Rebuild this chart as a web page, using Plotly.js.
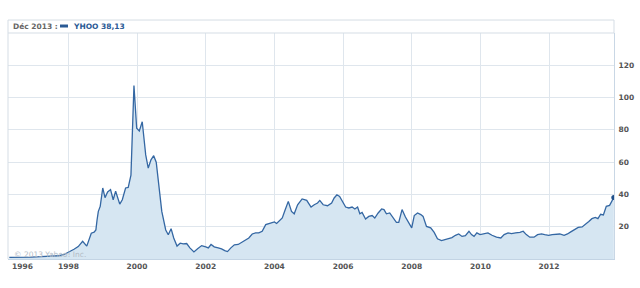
<!DOCTYPE html>
<html>
<head>
<meta charset="utf-8">
<script src="https://cdn.plot.ly/plotly-3.0.1.min.js"></script>
<style>html,body{margin:0;padding:0;background:#fff;}#chart{width:640px;height:288px;}</style>
</head>
<body>
<div id="chart"></div>
<script>
var dates = ['1996-04-12','1996-08-01','1996-12-01','1997-03-15','1997-07-01','1997-09-15','1997-11-15','1998-01-01','1998-03-01','1998-04-15','1998-06-01','1998-07-15','1998-09-01','1998-10-01','1998-10-20','1998-11-01','1998-11-15','1998-12-05','1999-01-01','1999-01-25','1999-02-22','1999-03-25','1999-04-22','1999-05-18','1999-07-01','1999-07-28','1999-09-01','1999-09-29','1999-10-28','1999-11-29','1999-12-28','2000-01-25','2000-02-25','2000-04-02','2000-04-29','2000-05-28','2000-06-26','2000-07-23','2000-08-22','2000-09-20','2000-11-01','2000-11-28','2000-12-28','2001-01-25','2001-03-01','2001-04-04','2001-05-06','2001-06-12','2001-07-16','2001-08-28','2001-10-06','2001-11-18','2002-01-01','2002-01-28','2002-02-26','2002-04-01','2002-05-13','2002-06-18','2002-07-22','2002-08-20','2002-09-25','2002-11-01','2002-12-12','2003-01-18','2003-03-01','2003-04-04','2003-05-10','2003-06-15','2003-07-19','2003-08-24','2003-10-01','2003-11-15','2004-01-01','2004-01-25','2004-03-01','2004-03-25','2004-04-22','2004-05-28','2004-07-01','2004-07-30','2004-09-04','2004-10-10','2004-10-22','2004-12-10','2005-01-25','2005-02-28','2005-04-04','2005-04-28','2005-06-03','2005-07-19','2005-09-01','2005-09-28','2005-10-27','2005-11-25','2005-12-27','2006-01-28','2006-03-03','2006-04-07','2006-05-06','2006-06-04','2006-06-28','2006-07-22','2006-08-28','2006-10-01','2006-11-06','2006-12-04','2007-01-09','2007-02-15','2007-03-12','2007-04-07','2007-05-12','2007-06-16','2007-07-22','2007-08-16','2007-09-20','2007-10-26','2007-12-01','2008-01-01','2008-01-28','2008-03-03','2008-04-07','2008-05-01','2008-06-06','2008-07-21','2008-08-27','2008-10-01','2008-11-13','2008-12-25','2009-01-31','2009-03-04','2009-04-10','2009-05-15','2009-06-19','2009-07-25','2009-09-01','2009-09-28','2009-10-25','2009-11-24','2009-12-28','2010-02-09','2010-03-22','2010-05-04','2010-06-21','2010-08-06','2010-09-10','2010-10-22','2010-11-28','2011-01-10','2011-02-25','2011-04-01','2011-05-04','2011-06-10','2011-07-25','2011-09-01','2011-10-13','2011-11-16','2011-12-28','2012-02-03','2012-03-19','2012-04-24','2012-06-09','2012-07-15','2012-08-19','2012-10-01','2012-11-06','2012-12-18','2013-01-22','2013-02-27','2013-04-01','2013-05-07','2013-06-04','2013-07-03','2013-08-01','2013-09-01','2013-10-06','2013-10-28','2013-11-20'];
var prices = [1.0,0.9,1.1,1.5,1.7,2.0,2.8,4.0,6.0,7.7,11.0,8.0,16.0,16.6,18.0,24.0,29.5,32.6,44.0,38.0,41.5,43.0,36.7,42.0,34.0,36.7,44.0,44.3,52.0,107.5,81.0,79.3,85.0,64.5,56.3,61.4,64.0,60.0,44.0,29.5,18.0,15.0,18.8,13.0,8.0,9.8,9.4,9.6,6.9,4.4,6.3,8.3,7.5,6.9,9.0,7.5,6.9,6.3,5.2,4.6,6.9,8.8,9.0,10.4,12.0,13.0,15.5,16.2,16.2,17.2,21.3,22.3,23.0,22.0,24.0,25.4,30.0,35.7,29.5,28.0,33.6,36.3,37.2,36.3,32.2,33.6,34.7,36.3,33.6,33.0,34.7,37.8,39.8,38.8,35.0,32.2,31.6,32.2,31.0,32.2,28.0,28.9,24.8,26.4,26.9,25.4,28.5,31.0,30.6,28.0,28.5,25.4,22.7,22.7,30.6,26.0,22.3,19.3,26.9,28.5,27.5,26.4,20.2,19.3,16.5,12.5,11.4,12.0,12.6,13.3,14.7,15.5,14.0,14.5,17.2,15.1,14.0,16.2,15.1,15.5,16.2,14.7,13.5,13.0,15.1,16.2,15.7,16.2,16.5,17.2,15.1,13.5,13.5,15.1,15.5,15.1,14.7,15.1,15.1,15.5,14.7,15.5,16.8,18.2,19.6,19.9,21.3,23.3,25.0,25.8,25.0,27.7,27.3,32.6,33.2,35.3,38.13];
var yTicks = [20,40,60,80,100,120,140];
var yTickText = ['20','40','60','80','100','120',''];
var headerDate = 'Déc 2013 :';
var headerSeries = 'YHOO 38,13';
var copyright = '© 2013 Yahoo! Inc.';
var firstYearLabel = '1996';

var lineColor = '#3467a3';
var gridColor = '#dfe6ed';
var tickFont = {family: 'DejaVu Sans', size: 7.5, color: '#555555', weight: 'bold'};

var traces = [
  {x: dates, y: prices, type: 'scatter', mode: 'lines', fill: 'tozeroy',
   fillcolor: '#d6e6f2', line: {color: lineColor, width: 1.3}, hoverinfo: 'skip'},
  {x: [dates[dates.length-1]], y: [prices[prices.length-1]], type: 'scatter', mode: 'markers',
   marker: {color: '#1f4f8a', size: 5}, hoverinfo: 'skip'}
];

var layout = {
  width: 640, height: 288,
  margin: {l: 8, r: 26, t: 33, b: 28.5},
  paper_bgcolor: '#ffffff', plot_bgcolor: '#ffffff',
  showlegend: false,
  xaxis: {type: 'date', range: ['1996-03-29', '2013-11-22'], tick0: '1998-01-01', dtick: 'M24',
          tickformat: '%Y', showgrid: true, gridcolor: gridColor, gridwidth: 1,
          showline: true, linecolor: '#c3d4e4', linewidth: 1, zeroline: false,
          ticks: '', tickfont: tickFont, ticklabelstandoff: 0, fixedrange: true},
  yaxis: {range: [0, 140], side: 'right', tickvals: yTicks, ticktext: yTickText,
          showgrid: true, gridcolor: gridColor, gridwidth: 1, zeroline: false,
          showline: true, linecolor: '#c9d7e5', linewidth: 1,
          ticks: '', tickfont: tickFont, ticklabelstandoff: 2, fixedrange: true},
  shapes: [
    {type: 'rect', xref: 'paper', yref: 'paper', x0: 0, x1: 1, y0: 1, y1: 1 + 13/226.5,
     line: {color: '#d5dde5', width: 1}, fillcolor: 'rgba(0,0,0,0)'},
    {type: 'line', xref: 'paper', yref: 'paper', x0: 0, x1: 0, y0: 0, y1: 1,
     line: {color: '#d5dde5', width: 1}},
    {type: 'rect', xref: 'paper', yref: 'paper', x0: 52/606, x1: 60/606,
     y0: 1 + 5.5/226.5, y1: 1 + 8.5/226.5, line: {width: 0}, fillcolor: '#2a5a95'}
  ],
  annotations: [
    {xref: 'paper', yref: 'paper', x: 3/606, y: 1 + 6.5/226.5, xanchor: 'left', yanchor: 'middle',
     text: headerDate, showarrow: false, font: {family: 'DejaVu Sans', size: 7.5, color: '#666666', weight: 'bold'}},
    {xref: 'paper', yref: 'paper', x: 63/606, y: 1 + 6.5/226.5, xanchor: 'left', yanchor: 'middle',
     text: headerSeries, showarrow: false, font: {family: 'DejaVu Sans', size: 7.5, color: '#2a5a95', weight: 'bold'}},
    {xref: 'paper', yref: 'paper', x: 4/606, y: 5/226.5, xanchor: 'left', yanchor: 'middle',
     text: copyright, showarrow: false, font: {family: 'DejaVu Sans', size: 7.5, color: '#b3bcc6'}},
    {xref: 'paper', yref: 'paper', x: 2/606, y: 0, xanchor: 'left', yanchor: 'top', yshift: -1,
     text: firstYearLabel, showarrow: false, font: tickFont}
  ]
};

Plotly.newPlot('chart', traces, layout, {displayModeBar: false, staticPlot: true});
</script>
</body>
</html>
